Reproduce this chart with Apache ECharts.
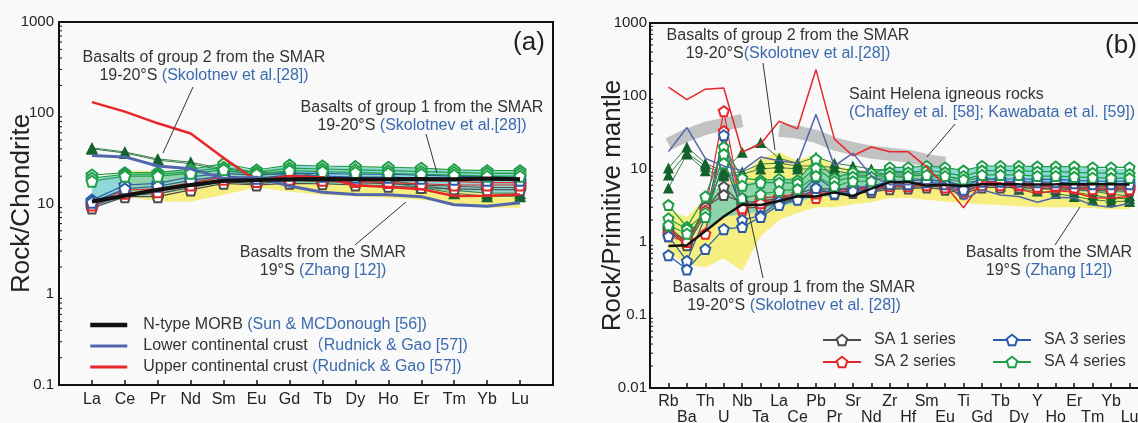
<!DOCTYPE html>
<html>
<head>
<meta charset="utf-8">
<script src="https://cdn.jsdelivr.net/npm/echarts@6/dist/echarts.min.js"></script>
<style>
html, body { margin: 0; padding: 0; background: #f9f9f9; }
#chart { width: 1138px; height: 423px; }
</style>
</head>
<body>
<div id="chart"></div>
<script>
// element order of the two diagrams
var ree = ['La', 'Ce', 'Pr', 'Nd', 'Sm', 'Eu', 'Gd', 'Tb', 'Dy', 'Ho', 'Er', 'Tm', 'Yb', 'Lu'];
var spider = ['Rb', 'Ba', 'Th', 'U', 'Nb', 'Ta', 'La', 'Ce', 'Pb', 'Pr', 'Sr', 'Nd', 'Zr', 'Hf',
              'Sm', 'Eu', 'Ti', 'Gd', 'Tb', 'Dy', 'Y', 'Ho', 'Er', 'Tm', 'Yb', 'Lu'];

// (a) chondrite normalised
var chMorb = [10.5, 12.2, 14.2, 16.0, 17.8, 18.1, 18.5, 18.6, 18.5, 18.5, 18.6, 18.5, 18.9, 18.5];
var chLcc  = [33.8, 32.6, 25.9, 24.1, 18.9, 19.5, 15.6, 13.3, 12.6, 12.5, 11.9, 9.7, 9.3, 10.2];
var chUcc  = [131, 103, 76.5, 59, 31.8, 17.8, 20.1, 19.4, 15.9, 15.2, 14.4, 12.1, 12.2, 12.6];
var chSA1a = [9.4, 12.5, 12.8, 15, 17.5, 16.5, 18, 17.5, 17, 16.5, 16, 15.5, 15, 15];
var chSA1b = [8.9, 11.9, 11.9, 14.1, 16.7, 16, 16.7, 16.5, 16, 15.5, 15, 14.5, 14.2, 14.2];
var chSA2a = [10, 14, 14.5, 17, 19.5, 18.5, 19.5, 19.5, 19, 18.5, 18, 17.5, 17, 17];
var chSA2b = [9.6, 13, 13.5, 16, 18.5, 17.5, 18.5, 18, 17.5, 17, 16.5, 16, 16, 16];
var chSA3a = [10.9, 16, 16.7, 19.7, 21.5, 20.5, 21.6, 21.5, 21, 21, 20.5, 20, 19.5, 19.5];
var chSA3b = [10.3, 14.5, 15.5, 18, 20, 19, 20.5, 20, 19.5, 19.5, 19, 18.5, 18, 18];
var chSA4a = [20.6, 21.8, 22, 23.8, 27.5, 23.4, 26.5, 25.9, 25.5, 25, 24.5, 23.5, 23, 23];
var chSA4b = [19, 21, 21, 22.5, 25, 22, 24.5, 24, 23.5, 23, 22.5, 22, 21.5, 21.5];
var chSA4c = [17.6, 20, 20, 21.5, 23.5, 21, 23, 22.5, 22, 21.5, 21, 20.5, 20, 20];
var chG2a  = [41, 37, 31, 28.5, 24, 22, 22, 20, 19, 18, 16, 14, 13, 13];
var chG2b  = [40, 36, 30, 27.5, 23, 21, 21, 19, 18, 17, 15, 13, 12, 12];
var chG1Lo = [9, 11.5, 12.5, 14.5, 17, 16, 17, 16.5, 16, 15.5, 14.5, 13.5, 13, 13];
var chG1Hi = [19, 21, 22, 23.5, 26.5, 23, 26, 25.5, 25, 24.5, 24, 23, 22.5, 22.5];
var chZhangLo = [null, 12, 10.5, 10.5, 12.5, 15, 13.5, 12.5, 12, 11.5, 11, 10, 9, 9];
var chZhangHi = [null, 23, 23, 22, 22, 24, 22, 19, 17, 16, 15, 14, 13, 13];

// (b) primitive mantle normalised
var pmMorb = [0.88, 0.9, 1.41, 2.24, 3.27, 3.22, 3.64, 4.23, 4.2, 4.78, 4.27, 5.39, 6.61, 6.63,
              5.92, 6.07, 5.85, 6.17, 6.2, 6.17, 6.15, 6.16, 6.19, 6.16, 6.19, 6.15];
var pmLcc  = [17.3, 37, 14, 11, 9.5, 14.6, 13, 12, 56, 11, 16.5, 8.1, 6.1, 6.1,
              6.3, 6.5, 3.8, 5.2, 4.4, 4.2, 3.5, 4.1, 4.0, 3.2, 3.0, 3.4];
var pmUcc  = [132, 89, 124, 129, 17, 22, 45, 35.5, 230, 25.7, 15.2, 20, 17.2, 17.2,
              10.6, 6, 2.95, 6.7, 6.5, 5.3, 4.6, 5.1, 4.8, 4.05, 4.0, 4.2];
var pmSA1a = [1.5, 0.95, 2.8, 5.7, 3.2, 3.3, 3.8, 4.3, 5.0, 4.8, 5.0, 5.0, 5.7, 5.7, 6.0, 5.5, 5.0, 6.0, 6.0, 6.0, 5.8, 5.8, 5.5, 5.5, 5.4, 5.4];
var pmSA1b = [1.4, 0.9, 2.4, 12, 2.9, 3.0, 3.4, 4.0, 4.4, 4.5, 4.7, 4.8, 5.3, 5.4, 5.6, 5.2, 4.6, 5.6, 5.6, 5.6, 5.4, 5.4, 5.2, 5.1, 5.0, 5.0];
var pmSA1c = [1.6, 1.0, 3.0, 4.4, 3.5, 3.6, 4.0, 4.6, 5.5, 5.2, 5.4, 5.4, 6.0, 6.0, 6.3, 5.8, 5.4, 6.3, 6.3, 6.3, 6.1, 6.1, 5.9, 5.8, 5.7, 5.7];
var pmSA2a = [1.3, 1.1, 2.7, 62, 2.7, 4.0, 4.2, 4.5, 4.0, 5.0, 5.5, 5.5, 6.2, 6.2, 6.5, 6.0, 5.3, 6.5, 6.5, 6.5, 6.2, 6.2, 6.0, 5.8, 5.8, 5.8];
var pmSA2b = [1.2, 1.0, 1.3, 33, 2.9, 3.4, 3.8, 4.3, 4.6, 4.8, 5.2, 5.2, 5.8, 5.8, 6.0, 5.6, 4.9, 6.0, 6.0, 6.0, 5.7, 5.7, 5.5, 5.3, 5.3, 5.3];
var pmSA3a = [1.2, 0.55, 2.2, 29, 2.0, 2.3, 3.6, 4.2, 7.8, 5.2, 5.6, 5.8, 6.8, 6.8, 7.2, 6.8, 5.8, 7.3, 7.3, 7.3, 7.2, 7.2, 7.0, 6.8, 6.8, 6.8];
var pmSA3b = [0.66, 0.42, 0.8, 1.5, 1.6, 2.2, 3.2, 3.8, 5.5, 4.6, 5.0, 5.2, 6.2, 6.2, 6.6, 6.2, 5.2, 6.7, 6.7, 6.7, 6.6, 6.6, 6.4, 6.2, 6.2, 6.2];
var pmSA4a = [3.2, 1.6, 4.2, 20, 7.5, 7.0, 7.3, 7.0, 13.7, 7.5, 9.0, 8.8, 10.5, 10.5, 11, 10.5, 9.5, 11, 11, 11, 10.8, 10.8, 10.8, 10.5, 10.5, 10.5];
var pmSA4b = [2.1, 1.5, 2.5, 16, 5.9, 6.5, 6.5, 6.4, 10.3, 6.8, 7.8, 7.8, 9.0, 9.0, 9.5, 9.0, 8.0, 9.5, 9.5, 9.5, 9.2, 9.2, 9.0, 8.8, 8.8, 8.5];
var pmSA4c = [1.7, 1.3, 2.2, 12, 4.0, 4.5, 5.0, 5.3, 8.0, 5.8, 6.8, 6.8, 8.0, 8.0, 8.3, 8.0, 7.2, 8.3, 8.3, 8.3, 8.0, 8.0, 7.8, 7.6, 7.5, 7.5];
var pmG2a  = [10.3, 20, 12, 9.2, 17, 23, 14, 12, 14.6, 12, 11, 10, 9.5, 9, 8.5, 8, 7, 7.5, 7, 6.5, 6, 5.7, 5.3, 5, 4.5, 4.3];
var pmG2b  = [8.3, 16.5, 11, 8.5, 9.2, 11.7, 12, 11, 11, 10.5, 9.5, 9, 8.5, 8.5, 8, 7.5, 6.5, 7, 6.5, 6, 5.5, 5.2, 4.8, 4.4, 4, 3.9];
var pmG2c  = [5.5, 16, 9.5, 8, 8.5, 10, 10.5, 10, 10, 9.5, 8.5, 8, 8, 7.5, 7, 6.8, 6, 6.3, 5.8, 5.3, 5, 4.6, 4.2, 3.8, 3.6, 3.6];
var pmHelena = [22, 29, 36, 41, 46, null, 34, 32, 28, 22, 19, 17, 16, 15, 13, 12,
                null, null, null, null, null, null, null, null, null, null];
var pmG1Lo = [null, null, 1.3, 2.2, 2.4, 2.6, 3.0, 3.5, 4.2, 4.2, 4.6, 4.8, 5.3, 5.3, 5.5, 5.3, 4.8, 5.5, 5.5, 5.5, 5.3, 5.2, 5.0, 4.8, 4.7, 4.7];
var pmG1Hi = [null, null, 4.5, 6, 6.4, 6.8, 7.3, 7.5, 12, 8.5, 9.5, 9.5, 10.5, 10.5, 11, 10.5, 9.5, 11, 11, 11, 10.8, 10.8, 10.5, 10.2, 10, 10];
var pmZhangLo = [0.7, 0.5, 0.45, 0.6, 0.4, 1.2, 2.0, 2.5, 3.0, 3.0, 3.3, 3.5, 4.0, 4.0, 3.8, 3.6, 3.4, 3.3, 3.2, 3.1, 3.0, 3.0, 3.0, 2.9, 2.8, 2.8];
var pmZhangHi = [2.7, 2.2, 4.0, 6.0, 8.0, 14, 17, 13, 16, 11, 10, 9, 8, 8, 8, 7.5, 6, 7, 7, 6.5, 6.5, 6.5, 6, 6, 6, 6];

var FONT = '"Liberation Sans", Arial, "Noto Sans CJK SC", sans-serif';
var PENT = 'path://M0,-1L0.951,-0.309L0.588,0.809L-0.588,0.809L-0.951,-0.309Z';
var C = {
  sa1: '#4d4d4d', sa2: '#e5262b', sa3: '#2a5ba7', sa4: '#1e9e48',
  g2: '#14632e', ucc: '#e8262a', lcc: '#5366ad', ref: '#3b6aae'
};

var myChart = echarts.init(document.getElementById('chart'));

function pad(arr) {
  return ['-'].concat(arr.map(function (v) { return v == null ? '-' : v; }), ['-']);
}

function band(lo, hi, color, ax, z) {
  var pts = [];
  lo.forEach(function (v, i) { if (v != null) pts.push([i + 1, v, hi[i]]); });
  return {
    type: 'custom', xAxisIndex: ax, yAxisIndex: ax, z: z, silent: true,
    data: pts, encode: { x: 0, y: [1, 2] },
    renderItem: function (params, api) {
      if (params.dataIndex !== 0) return;
      var top = pts.map(function (p) { return api.coord([p[0], p[2]]); });
      var bot = pts.map(function (p) { return api.coord([p[0], p[1]]); }).reverse();
      return { type: 'polygon', shape: { points: top.concat(bot) }, style: { fill: color } };
    }
  };
}

function sample(name, data, color, ax, size) {
  return {
    type: 'line', name: name, xAxisIndex: ax, yAxisIndex: ax, data: pad(data), z: 3,
    symbol: PENT, symbolSize: size, showAllSymbol: true,
    lineStyle: { color: color, width: 1.2 },
    itemStyle: { color: '#fff', borderColor: color, borderWidth: 2 },
    emphasis: { disabled: true }
  };
}

function group2(data, ax, size) {
  return {
    type: 'line', name: 'group 2', xAxisIndex: ax, yAxisIndex: ax, data: pad(data), z: 3,
    symbol: 'triangle', symbolSize: size, showAllSymbol: true,
    lineStyle: { color: '#3a7d4a', width: 1 },
    itemStyle: { color: C.g2 },
    emphasis: { disabled: true }
  };
}

function plain(name, data, color, width, ax, z) {
  return {
    type: 'line', name: name, xAxisIndex: ax, yAxisIndex: ax, data: pad(data), z: z,
    symbol: 'none', lineStyle: { color: color, width: width },
    itemStyle: { color: color }, emphasis: { disabled: true }
  };
}

function catAxis(gi, names, twoRows) {
  var data = [''].concat(names, ['']);
  return {
    type: 'category', gridIndex: gi, data: data, boundaryGap: false,
    axisLine: { lineStyle: { color: '#111', width: 2 } },
    axisTick: { inside: true, length: 5, lineStyle: { color: '#111', width: 1.5 },
      interval: function (i) { return i > 0 && i < data.length - 1; } },
    axisLabel: { interval: 0, margin: twoRows ? 6 : 7, color: '#222', fontSize: 16,
      fontFamily: FONT, lineHeight: 16,
      formatter: function (v, i) { return twoRows && i % 2 === 0 ? '\n' + v : v; } },
    splitLine: { show: false }
  };
}

function logAxis(gi, min, name, margin) {
  return {
    type: 'log', gridIndex: gi, logBase: 10, min: min, max: 1000,
    axisLine: { show: true, lineStyle: { color: '#111', width: 2 } },
    axisTick: { inside: true, length: 6, lineStyle: { color: '#111', width: 1.5 } },
    axisLabel: { margin: margin, color: '#222', fontSize: 15, fontFamily: FONT,
      formatter: function (v) { return String(+(+v).toPrecision(3)); } },
    splitLine: { show: false },
    name: name, nameLocation: 'middle', nameGap: 24, nameMoveOverlap: false,
    nameTextStyle: { fontSize: 26, fontFamily: FONT, color: '#222' }
  };
}

function note(x, y, l1, pre, ref, align) {
  var st = { fontSize: 16, fontFamily: FONT, lineHeight: 18 };
  return {
    type: 'text', x: x, y: y, z: 100,
    style: {
      text: '{k|' + l1 + '}\n{k|' + pre + '}{b|' + ref + '}',
      align: align || 'center', verticalAlign: 'middle',
      rich: { k: Object.assign({ fill: '#333' }, st), b: Object.assign({ fill: C.ref }, st) }
    }
  };
}

function leader(x1, y1, x2, y2) {
  return { type: 'line', z: 100, shape: { x1: x1, y1: y1, x2: x2, y2: y2 },
    style: { stroke: '#333', lineWidth: 1 } };
}

var notes = [
  note(204, 67, 'Basalts of group 2 from the SMAR', '19-20°S ', '(Skolotnev et al.[28])'),
  leader(193, 87, 163, 153),
  note(422, 117, 'Basalts of group 1 from the SMAR', '19-20°S ', '(Skolotnev et al.[28])'),
  leader(426, 134, 437, 173),
  note(323, 262, 'Basalts from the SMAR', '19°S ', '(Zhang [12])'),
  leader(355, 245, 406, 202),
  { type: 'text', x: 529, y: 43, z: 100, style: { text: '(a)', font: '26px ' + FONT, fill: '#222', align: 'center', verticalAlign: 'middle' } },
  note(788, 45, 'Basalts of group 2 from the SMAR', '19-20°S', '(Skolotnev et al.[28])'),
  leader(763, 63, 775, 150),
  note(849, 104, 'Saint Helena igneous rocks', '', '(Chaffey et al. [58]; Kawabata et al. [59])', 'left'),
  leader(955, 124, 927, 157),
  note(1049, 262, 'Basalts from the SMAR', '19°S ', '(Zhang [12])'),
  leader(1055, 245, 1080, 207),
  note(794, 297, 'Basalts of group 1 from the SMAR', '19-20°S ', '(Skolotnev et al. [28])'),
  leader(745, 195, 763, 278),
  { type: 'text', x: 1121, y: 46, z: 100, style: { text: '(b)', font: '26px ' + FONT, fill: '#222', align: 'center', verticalAlign: 'middle' } }
];

// legend references, with their own separator
var refs = {
  'N-type MORB': ' (Sun & MCDonough [56])',
  'Lower continental crust': '（Rudnick & Gao [57])',
  'Upper continental crust': ' (Rudnick & Gao [57])'
};
var legendText = { fontSize: 16, fontFamily: FONT, color: '#333', lineHeight: 18,
  rich: { t: { fontSize: 16, fontFamily: FONT, color: '#333', padding: [0, 0, 0, 11] },
          r: { fontSize: 16, fontFamily: FONT, color: C.ref } } };
var saText = { fontSize: 16, fontFamily: FONT, color: '#333', lineHeight: 18,
  rich: { t: { fontSize: 16, fontFamily: FONT, color: '#333', padding: [0, 0, 0, 8] } } };

var option = {
  backgroundColor: '#f9f9f9',
  animation: false,
  grid: [
    { left: 59, top: 22, width: 494, height: 363, show: true, borderColor: '#111', borderWidth: 2,
      backgroundColor: 'transparent', outerBoundsMode: 'none', containLabel: false },
    { left: 650, top: 23, width: 498, height: 365, show: true, borderColor: '#111', borderWidth: 2,
      backgroundColor: 'transparent', outerBoundsMode: 'none', containLabel: false }
  ],
  xAxis: [catAxis(0, ree, false), catAxis(1, spider, true)],
  yAxis: [logAxis(0, 0.1, 'Rock/Chondrite', 5), logAxis(1, 0.01, 'Rock/Primitive mantle', 3)],
  legend: [
    { left: 88, top: 316, padding: 0, orient: 'vertical', selectedMode: false, itemWidth: 37, itemHeight: 14,
      itemGap: 3, textStyle: legendText,
      itemStyle: { color: 'rgba(0,0,0,0)', borderColor: 'rgba(0,0,0,0)', borderWidth: 0 },
      data: [
        { name: 'N-type MORB', lineStyle: { width: 4.5 } },
        { name: 'Lower continental crust', lineStyle: { width: 3 } },
        { name: 'Upper continental crust', lineStyle: { width: 3 } }
      ],
      formatter: function (n) { return '{t|' + n + '}{r|' + refs[n] + '}'; } },
    { left: 822, top: 331, padding: 0, orient: 'vertical', selectedMode: false, itemWidth: 38, itemHeight: 13,
      itemGap: 4, textStyle: saText, data: ['SA 1 series', 'SA 2 series'],
      formatter: function (n) { return '{t|' + n + '}'; } },
    { left: 992, top: 331, padding: 0, orient: 'vertical', selectedMode: false, itemWidth: 38, itemHeight: 13,
      itemGap: 4, textStyle: saText, data: ['SA 3 series', 'SA 4 series'],
      formatter: function (n) { return '{t|' + n + '}'; } }
  ],
  graphic: notes,
  series: [
    // (a)
    band(chZhangLo, chZhangHi, '#f6ee7e', 0, 1),
    band(chG1Lo, chG1Hi, 'rgba(88,196,196,0.65)', 0, 1.5),
    plain('Upper continental crust', chUcc, C.ucc, 2.5, 0, 4),
    plain('Lower continental crust', chLcc, C.lcc, 3, 0, 4),
    group2(chG2a, 0, 12), group2(chG2b, 0, 12),
    sample('SA 1 series', chSA1a, C.sa1, 0, 11), sample('SA 1 series', chSA1b, C.sa1, 0, 11),
    sample('SA 2 series', chSA2a, C.sa2, 0, 11), sample('SA 2 series', chSA2b, C.sa2, 0, 11),
    sample('SA 3 series', chSA3a, C.sa3, 0, 11), sample('SA 3 series', chSA3b, C.sa3, 0, 11),
    sample('SA 4 series', chSA4a, C.sa4, 0, 11), sample('SA 4 series', chSA4b, C.sa4, 0, 11),
    sample('SA 4 series', chSA4c, C.sa4, 0, 11),
    plain('N-type MORB', chMorb, '#111', 4, 0, 5),
    // (b)
    {
      type: 'line', name: 'Saint Helena', xAxisIndex: 1, yAxisIndex: 1, data: pad(pmHelena), z: 1,
      symbol: 'none', connectNulls: false, lineStyle: { color: '#c2c2c2', width: 13, join: 'round' },
      emphasis: { disabled: true }
    },
    band(pmZhangLo, pmZhangHi, '#f6ee7e', 1, 1),
    band(pmG1Lo, pmG1Hi, 'rgba(88,196,196,0.65)', 1, 1.5),
    plain('Upper continental crust', pmUcc, C.ucc, 1.5, 1, 4),
    plain('Lower continental crust', pmLcc, C.lcc, 1.5, 1, 4),
    group2(pmG2a, 1, 11), group2(pmG2b, 1, 11), group2(pmG2c, 1, 11),
    sample('SA 1 series', pmSA1a, C.sa1, 1, 10), sample('SA 1 series', pmSA1b, C.sa1, 1, 10),
    sample('SA 1 series', pmSA1c, C.sa1, 1, 10),
    sample('SA 2 series', pmSA2a, C.sa2, 1, 10), sample('SA 2 series', pmSA2b, C.sa2, 1, 10),
    sample('SA 3 series', pmSA3a, C.sa3, 1, 10), sample('SA 3 series', pmSA3b, C.sa3, 1, 10),
    sample('SA 4 series', pmSA4a, C.sa4, 1, 10), sample('SA 4 series', pmSA4b, C.sa4, 1, 10),
    sample('SA 4 series', pmSA4c, C.sa4, 1, 10),
    plain('N-type MORB', pmMorb, '#111', 2.5, 1, 5)
  ]
};
myChart.setOption(option);

// minor ticks of the log axes, placed through the axis scale
function minorTicks(ax, fromExp, toExp) {
  var out = [];
  for (var e = fromExp; e < toExp; e++) {
    for (var m = 2; m <= 9; m++) {
      var p = myChart.convertToPixel({ xAxisIndex: ax, yAxisIndex: ax }, [0, m * Math.pow(10, e)]);
      out.push({ type: 'line', z: 100, shape: { x1: p[0], y1: p[1], x2: p[0] + 3, y2: p[1] },
        style: { stroke: '#111', lineWidth: 1 } });
    }
  }
  return out;
}
myChart.setOption({ graphic: notes.concat(minorTicks(0, -1, 3), minorTicks(1, -2, 3)) });
</script>
</body>
</html>
